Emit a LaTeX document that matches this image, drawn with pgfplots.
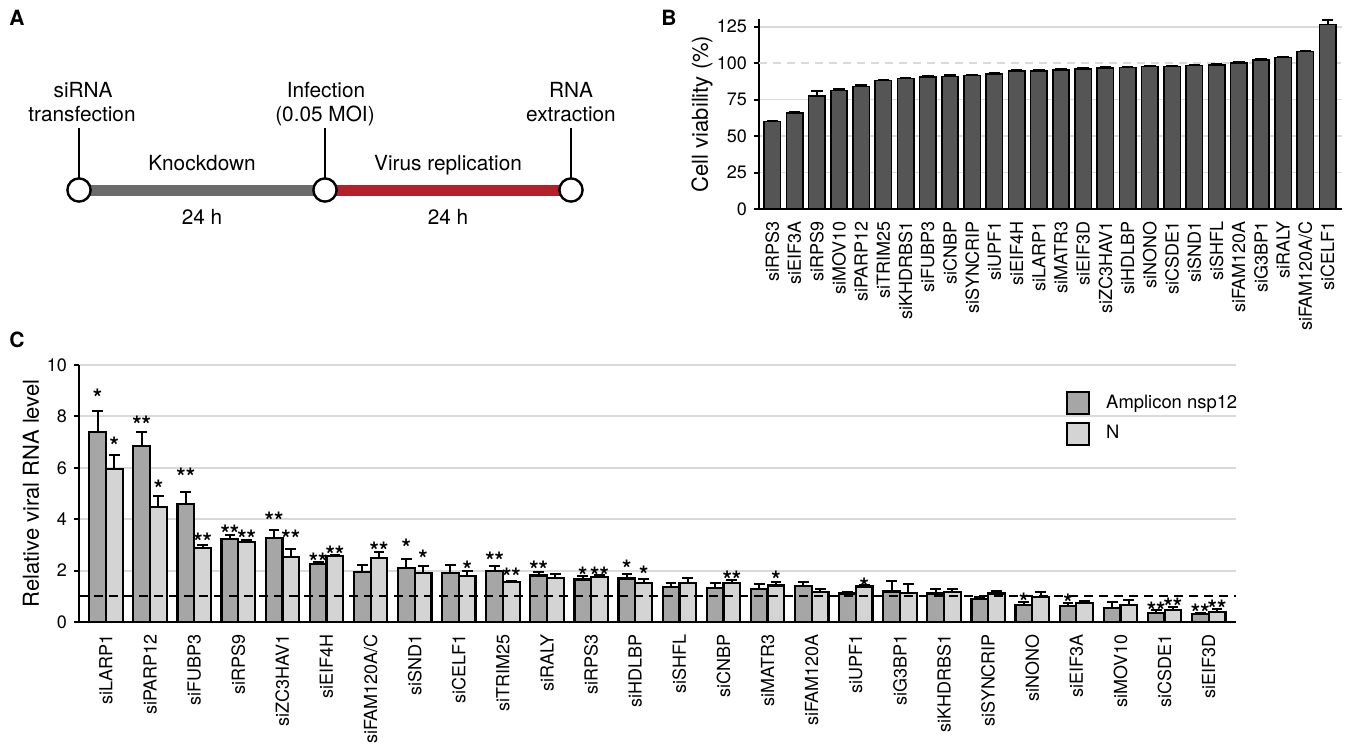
\documentclass[border=0pt]{standalone}
\usepackage{fontspec}
\setmainfont{TeX Gyre Heros}
\usepackage{pgfplots}
\pgfplotsset{compat=1.18}
\usepackage{pgfplotstable}

\definecolor{cdark}{HTML}{A6A6A6}
\definecolor{clight}{HTML}{D4D4D4}
\definecolor{bbar}{HTML}{555555}
\definecolor{gridc}{HTML}{DADADA}
\definecolor{kdgray}{HTML}{6A6B6A}
\definecolor{vred}{HTML}{B2202A}

% Panel C: group index, dark (Amplicon nsp12) value/error, light (N) value/error
\pgfplotstableread{
x dy de ly le
0 7.40 0.80 5.96 0.54
1 6.86 0.52 4.46 0.46
2 4.60 0.44 2.88 0.13
3 3.23 0.14 3.10 0.10
4 3.27 0.32 2.52 0.34
5 2.25 0.09 2.56 0.06
6 1.94 0.28 2.49 0.22
7 2.11 0.34 1.91 0.26
8 1.91 0.31 1.78 0.20
9 1.98 0.19 1.55 0.06
10 1.81 0.13 1.72 0.15
11 1.65 0.13 1.76 0.05
12 1.69 0.18 1.52 0.16
13 1.37 0.16 1.52 0.18
14 1.32 0.20 1.52 0.11
15 1.29 0.18 1.42 0.13
16 1.40 0.15 1.16 0.13
17 1.11 0.07 1.38 0.07
18 1.19 0.39 1.14 0.32
19 1.11 0.16 1.16 0.11
20 0.88 0.10 1.11 0.08
21 0.67 0.11 0.96 0.22
22 0.62 0.10 0.75 0.08
23 0.56 0.22 0.65 0.20
24 0.36 0.09 0.47 0.11
25 0.30 0.06 0.40 0.12
}\tabC

% single-star annotations (x position, height)
\pgfplotstableread{
x y
-0.19 8.91
0.19 7.05
1.19 5.37
6.81 3.11
7.19 2.65
8.19 2.24
10.81 2.02
11.81 2.27
12.19 2.06
15.19 1.85
17.19 1.59
20.81 0.98
21.81 0.94
}\starsone

% double-star annotations
\pgfplotstableread{
x y
0.81 7.89
1.81 5.85
2.19 3.33
2.81 3.63
3.19 3.46
3.81 4.15
4.19 3.45
4.81 2.53
5.19 2.81
6.19 2.99
8.81 2.60
9.19 1.95
9.81 2.22
11.19 2.02
14.19 1.85
23.81 0.65
24.19 0.78
24.81 0.56
25.19 0.72
}\starstwo

% Panel B: cell viability
\pgfplotstableread{
x y e
0 59.9 0.6
1 66.0 0.5
2 77.5 3.3
3 81.4 0.6
4 84.1 0.6
5 88.2 0.5
6 89.6 0.5
7 90.7 0.4
8 91.0 0.7
9 91.6 0.4
10 92.5 0.9
11 94.6 0.7
12 94.6 0.4
13 95.3 0.4
14 96.2 0.4
15 96.9 0.4
16 97.1 0.5
17 97.6 0.4
18 97.6 0.3
19 98.3 0.4
20 98.7 0.4
21 100.3 0.4
22 102.1 0.5
23 104.0 0.5
24 107.9 0.7
25 126.6 3.0
}\tabB

\begin{document}
\begin{tikzpicture}
\useasboundingbox (0,0) rectangle (675.5pt,375.5pt);

% ---------- Overlay axis in pixel units: panel A and panel letters ----------
\begin{axis}[
  at={(0pt,0pt)}, anchor=south west, scale only axis,
  width=675.5pt, height=375.5pt,
  xmin=0, xmax=1351, ymin=0, ymax=751, y dir=reverse,
  axis lines=none, clip=false,
]
\addplot[kdgray, line width=5.5pt] coordinates {(79,190) (325,190)};
\addplot[vred, line width=5.5pt] coordinates {(325,190) (571,190)};
\addplot[black, line width=1.1pt] coordinates {(79,128) (79,178)};
\addplot[black, line width=1.1pt] coordinates {(325,128) (325,178)};
\addplot[black, line width=1.1pt] coordinates {(571,128) (571,178)};
\addplot[only marks, mark=*, mark size=5.8pt,
  mark options={fill=white, draw=black, line width=1.2pt}]
  coordinates {(79,190) (325,190) (571,190)};
\begin{scope}[every node/.style={font=\fontsize{10.4}{12}\selectfont, anchor=base, inner sep=0pt}]
\node at (axis cs:83,97) {siRNA};
\node at (axis cs:82,121) {transfection};
\node at (axis cs:326,97) {Infection};
\node at (axis cs:325,121) {(0.05 MOI)};
\node at (axis cs:571,97) {RNA};
\node at (axis cs:571,121) {extraction};
\node at (axis cs:202,170) {Knockdown};
\node at (axis cs:448,170) {Virus replication};
\node at (axis cs:202,224) {24 h};
\node at (axis cs:448,224) {24 h};
\end{scope}
\begin{scope}[every node/.style={font=\fontsize{10.5}{12}\selectfont\bfseries, anchor=base, inner sep=0pt}]
\node at (axis cs:17,25) {A};
\node at (axis cs:669,25) {B};
\node at (axis cs:17,347) {C};
\end{scope}
\end{axis}

% ---------- Panel B ----------
\begin{axis}[
  at={(379.5pt,271pt)}, anchor=south west, scale only axis,
  width=291.5pt, height=95pt,
  xmin=-0.60, xmax=25.65, ymin=0, ymax=130.3,
  axis x line*=bottom, axis y line*=left,
  axis line style={line width=1pt, black},
  ytick={0,25,50,75,125},
  extra y ticks={100},
  extra y tick style={ymajorgrids=true, major grid style={gridc, line width=0.8pt, dash pattern=on 4pt off 3pt}},
  ymajorgrids, major grid style={gridc, line width=0.8pt},
  xtick={0,...,25},
  xticklabels={siRPS3,siEIF3A,siRPS9,siMOV10,siPARP12,siTRIM25,siKHDRBS1,siFUBP3,siCNBP,siSYNCRIP,siUPF1,siEIF4H,siLARP1,siMATR3,siEIF3D,siZC3HAV1,siHDLBP,siNONO,siCSDE1,siSND1,siSHFL,siFAM120A,siG3BP1,siRALY,siFAM120A/C,siCELF1},
  xtick style={draw=none},
  ytick style={line width=1pt, black},
  tick align=outside, major tick length=2.5pt,
  xticklabel style={rotate=90, anchor=east, font=\fontsize{9}{10}\selectfont},
  yticklabel style={font=\fontsize{9}{10}\selectfont},
  /pgf/number format/assume math mode=true,
  ylabel={Cell viability (\%)},
  ylabel style={at={(axis description cs:-0.0978,0.5)}, anchor=center, font=\fontsize{11}{12}\selectfont},
  clip=false,
]
\addplot[ybar, bar width=0.74, bar shift=0pt, fill=bbar, draw=black, line width=0.8pt,
  error bars/.cd, y dir=plus, y explicit,
  error bar style={line width=1pt, black},
  error mark options={rotate=90, mark size=2.9pt, line width=1pt, black}]
  table[x=x, y=y, y error=e] {\tabB};
\end{axis}

% ---------- Panel C ----------
\begin{axis}[
  at={(39.5pt,64.5pt)}, anchor=south west, scale only axis,
  width=578.3pt, height=128.5pt,
  xmin=-0.612, xmax=25.61, ymin=0, ymax=10,
  axis x line*=bottom, axis y line*=left,
  axis line style={line width=1pt, black},
  ytick={0,2,...,10},
  ymajorgrids, major grid style={gridc, line width=1pt},
  xtick={0,...,25},
  xticklabels={siLARP1,siPARP12,siFUBP3,siRPS9,siZC3HAV1,siEIF4H,siFAM120A/C,siSND1,siCELF1,siTRIM25,siRALY,siRPS3,siHDLBP,siSHFL,siCNBP,siMATR3,siFAM120A,siUPF1,siG3BP1,siKHDRBS1,siSYNCRIP,siNONO,siEIF3A,siMOV10,siCSDE1,siEIF3D},
  xtick style={draw=none},
  ytick style={line width=1pt, black},
  tick align=outside, major tick length=2.5pt,
  xticklabel style={rotate=90, anchor=east, font=\fontsize{9}{10}\selectfont},
  yticklabel style={font=\fontsize{9}{10}\selectfont},
  /pgf/number format/assume math mode=true,
  ylabel={Relative viral RNA level},
  ylabel style={at={(axis description cs:-0.0415,0.5)}, anchor=center, font=\fontsize{11}{12}\selectfont},
  legend style={at={(0.8534,0.8988)}, anchor=north west, draw=none, fill=none,
    inner sep=0pt, outer sep=0pt, row sep=3pt,
    font=\fontsize{9.2}{10}\selectfont,
    /tikz/every odd column/.append style={column sep=6pt}},
  legend cell align=left,
  clip=false,
]
\addplot[ybar, bar width=0.379, bar shift=0pt, fill=cdark, draw=black, line width=1.1pt,
  legend image code/.code={\draw[fill=cdark, draw=black, line width=1.1pt] (0pt,-5.5pt) rectangle (11pt,5.5pt);},
  error bars/.cd, y dir=plus, y explicit,
  error bar style={line width=1pt, black},
  error mark options={rotate=90, mark size=2.7pt, line width=1pt, black}]
  table[x expr=\thisrow{x}-0.19, y=dy, y error=de] {\tabC};
\addplot[ybar, bar width=0.379, bar shift=0pt, fill=clight, draw=black, line width=1.1pt,
  legend image code/.code={\draw[fill=clight, draw=black, line width=1.1pt] (0pt,-5.5pt) rectangle (11pt,5.5pt);},
  error bars/.cd, y dir=plus, y explicit,
  error bar style={line width=1pt, black},
  error mark options={rotate=90, mark size=2.7pt, line width=1pt, black}]
  table[x expr=\thisrow{x}+0.19, y=ly, y error=le] {\tabC};
\addplot[black, line width=1pt, dash pattern=on 4.5pt off 3pt] coordinates {(-0.612,1) (25.61,1)};
\addplot[draw=none, mark=none, nodes near coords={*},
  nodes near coords style={anchor=center, inner sep=0pt, yshift=-2.6pt, font=\fontsize{12}{12}\selectfont\bfseries}]
  table[x=x, y=y] {\starsone};
\addplot[draw=none, mark=none, nodes near coords={**},
  nodes near coords style={anchor=center, inner sep=0pt, yshift=-2.6pt, font=\fontsize{12}{12}\selectfont\bfseries}]
  table[x=x, y=y] {\starstwo};
\legend{Amplicon nsp12, N}
\end{axis}
\end{tikzpicture}
\end{document}
